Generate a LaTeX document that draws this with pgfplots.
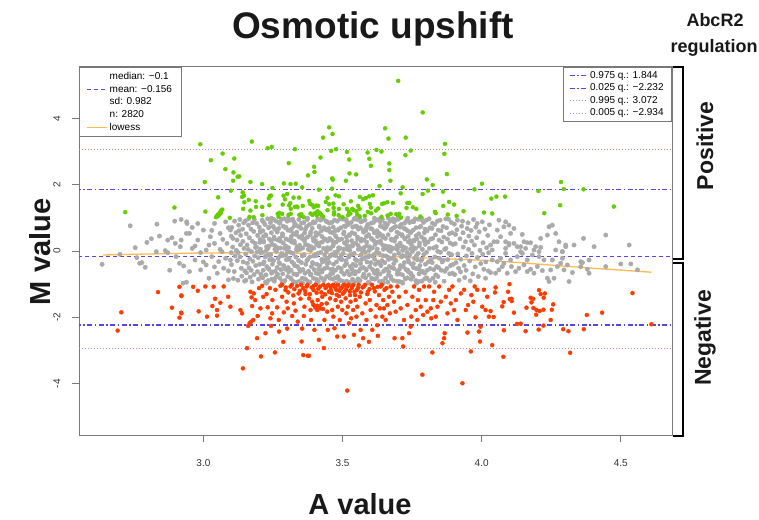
\documentclass[border=0pt]{standalone}
\usepackage{fontspec}
\setmainfont{Liberation Sans}
\usepackage{pgfplots}
\pgfplotsset{compat=1.18}
\definecolor{ptgray}{RGB}{170,170,170}
\definecolor{ptgreen}{RGB}{102,205,0}
\definecolor{ptred}{RGB}{255,60,0}
\definecolor{qdash}{RGB}{85,70,225}
\definecolor{qdot}{RGB}{150,140,245}
\definecolor{lowesscol}{RGB}{255,185,80}
\definecolor{framecol}{RGB}{120,120,120}
\begin{document}
\begin{tikzpicture}
\useasboundingbox (0pt,0pt) rectangle (759pt,519pt);
\begin{axis}[
  at={(79pt,84pt)}, anchor=south west, scale only axis, width=593pt, height=368pt,
  xmin=2.553, xmax=4.684, ymin=-5.55, ymax=5.55,
  axis line style={framecol, line width=1pt},
  xtick={3.0,3.5,4.0,4.5}, xticklabels={3.0,3.5,4.0,4.5},
  ytick={-4,-2,0,2,4}, yticklabels={-4,-2,0,2,4},
  xtick pos=lower, ytick pos=left, tick align=outside,
  major tick length=7pt,
  tick style={framecol, line width=0.8pt},
  ticklabel style={font=\fontsize{10}{12}\selectfont, text=black!80},
  xticklabel style={yshift=-14pt},
  yticklabel style={xshift=-8pt, rotate=90, anchor=south},
  legend style={at={(1,1)}, anchor=north east, draw=framecol, line width=0.8pt, fill=white,
    font=\fontsize{10}{12}\selectfont, row sep=0pt, inner xsep=6pt, inner ysep=2pt},
  legend cell align=left,
  legend image code/.code={\draw[#1] (0pt,0pt) -- (18pt,0pt);},
]
% gray points
\addplot[only marks, color=ptgray, mark=*, mark size=2.2pt, mark options={solid, draw=ptgray, fill=ptgray}, forget plot] coordinates {
(2.636,-0.40)(2.737,0.76)(2.833,0.81)(2.755,0.10)(2.797,0.26)(2.813,0.37)(2.842,0.45)(2.872,0.33)(2.887,0.40)(2.897,0.90)(2.920,0.95)(2.831,-0.02)(2.863,0.01)(2.872,-0.05)(2.761,-0.20)(2.771,-0.37)(2.779,-0.35)(2.791,-0.49)(2.879,-0.58)(2.914,-0.37)(2.929,-0.45)(2.927,-0.97)(2.939,-0.94)(2.899,0.23)(2.917,0.13)(2.902,-0.17)(2.941,0.83)(2.939,0.53)(2.700,-0.10)
(2.92,0.33)(2.94,0.88)(2.95,0.53)(2.96,0.08)(2.97,-0.27)(2.98,0.83)(2.98,0.33)(2.99,-0.57)(3.00,0.63)(3.01,0.03)(3.01,-0.42)(3.02,-0.82)(3.025,0.43)(3.03,-0.17)(3.04,0.83)(3.04,0.23)(3.05,-0.67)(3.055,-0.32)(3.06,0.53)(3.067,-0.02)(3.073,-0.52)(3.08,0.88)(3.085,0.23)(3.09,-0.87)(3.097,-0.27)(3.097,0.63)
(2.95,-0.62)(2.96,0.71)(2.97,0.15)(2.99,-0.05)(3.00,-0.33)(3.02,0.18)(3.03,0.62)(3.04,-0.48)(3.06,0.05)(3.07,0.35)(3.08,-0.22)(3.09,0.70)(3.09,-0.60)(3.10,0.45)(3.10,-0.05)
(3.102,0.71)(3.105,0.12)(3.101,-0.41)(3.108,-0.83)(3.106,0.38)
(3.112,0.90)(3.114,-0.15)(3.117,0.55)(3.111,-0.62)(3.118,0.02)
(3.121,0.33)(3.124,-0.88)(3.127,0.78)(3.122,-0.29)(3.128,0.61)(3.125,-0.05)
(3.131,0.95)(3.133,0.19)(3.136,-0.52)(3.138,-0.76)(3.134,0.47)(3.132,-0.18)
(3.141,0.66)(3.143,-0.33)(3.146,0.08)(3.148,-0.91)(3.145,0.85)(3.142,0.29)(3.149,-0.60)
(3.151,0.91)(3.154,0.52)(3.157,0.18)(3.152,-0.09)(3.158,-0.37)(3.155,-0.66)(3.153,-0.88)
(3.162,0.78)(3.165,0.40)(3.161,0.05)(3.167,-0.24)(3.164,-0.51)(3.168,-0.79)(3.163,0.97)
(3.171,0.66)(3.176,0.29)(3.173,-0.02)(3.178,-0.31)(3.172,-0.58)(3.175,-0.93)(3.177,0.85)
(3.183,0.95)(3.181,0.59)(3.186,0.23)(3.184,-0.15)(3.188,-0.44)(3.182,-0.71)(3.187,0.11)
(3.192,0.83)(3.195,0.47)(3.191,0.12)(3.197,-0.20)(3.194,-0.62)(3.198,-0.85)(3.193,-0.03)
(3.201,0.72)(3.204,0.35)(3.207,-0.06)(3.202,-0.40)(3.208,-0.74)(3.205,0.61)(3.203,0.26)
(3.211,0.93)(3.214,0.61)(3.217,0.27)(3.212,-0.04)(3.218,-0.33)(3.215,-0.58)(3.213,-0.81)(3.216,0.44)
(3.221,0.80)(3.224,0.49)(3.227,0.13)(3.222,-0.18)(3.228,-0.47)(3.225,-0.72)(3.223,-0.94)(3.226,0.02)
(3.231,0.97)(3.234,0.70)(3.237,0.36)(3.232,0.08)(3.238,-0.26)(3.235,-0.53)(3.233,-0.89)(3.236,-0.12)
(3.241,0.86)(3.244,0.55)(3.247,0.20)(3.242,-0.11)(3.248,-0.40)(3.245,-0.67)(3.243,0.31)(3.246,-0.85)
(3.251,0.74)(3.254,0.42)(3.257,0.05)(3.252,-0.29)(3.258,-0.61)(3.255,-0.91)(3.253,0.95)(3.256,0.17)
(3.261,0.90)(3.264,0.63)(3.267,0.33)(3.262,-0.01)(3.268,-0.22)(3.265,-0.50)(3.263,-0.77)(3.266,0.10)
(3.271,0.68)(3.274,0.38)(3.277,0.09)(3.272,-0.35)(3.278,-0.56)(3.275,-0.82)(3.273,0.84)(3.276,-0.15)
(3.281,0.96)(3.284,0.52)(3.287,0.24)(3.282,-0.07)(3.288,-0.44)(3.285,-0.69)(3.283,-0.92)(3.286,0.75)
(3.291,0.97)(3.294,0.70)(3.297,0.36)(3.292,0.08)(3.298,-0.26)(3.295,-0.53)(3.293,-0.89)(3.296,-0.12)
(3.301,0.90)(3.304,0.63)(3.307,0.33)(3.302,-0.01)(3.308,-0.22)(3.305,-0.50)(3.303,-0.77)(3.306,0.10)
(3.311,0.93)(3.314,0.61)(3.317,0.27)(3.312,-0.04)(3.318,-0.33)(3.315,-0.58)(3.313,-0.81)(3.316,0.44)
(3.321,0.96)(3.324,0.52)(3.327,0.24)(3.322,-0.07)(3.328,-0.44)(3.325,-0.69)(3.323,-0.92)(3.326,0.75)
(3.331,0.80)(3.334,0.49)(3.337,0.13)(3.332,-0.18)(3.338,-0.47)(3.335,-0.72)(3.333,-0.94)(3.336,0.02)
(3.341,0.74)(3.344,0.42)(3.347,0.05)(3.342,-0.29)(3.348,-0.61)(3.345,-0.91)(3.343,0.95)(3.346,0.17)
(3.351,0.68)(3.354,0.38)(3.357,0.09)(3.352,-0.35)(3.358,-0.56)(3.355,-0.82)(3.353,0.84)(3.356,-0.15)
(3.361,0.86)(3.364,0.55)(3.367,0.20)(3.362,-0.11)(3.368,-0.40)(3.365,-0.67)(3.363,0.31)(3.366,-0.85)
(3.371,0.74)(3.374,0.42)(3.377,0.05)(3.372,-0.29)(3.378,-0.61)(3.375,-0.91)(3.373,0.95)(3.376,0.17)
(3.381,0.80)(3.384,0.49)(3.387,0.13)(3.382,-0.18)(3.388,-0.47)(3.385,-0.72)(3.383,-0.94)(3.386,0.02)
(3.391,0.68)(3.394,0.38)(3.397,0.09)(3.392,-0.35)(3.398,-0.56)(3.395,-0.82)(3.393,0.84)(3.396,-0.15)
(3.401,0.86)(3.404,0.55)(3.407,0.20)(3.402,-0.11)(3.408,-0.40)(3.405,-0.67)(3.403,0.31)(3.406,-0.85)
(3.411,0.96)(3.414,0.52)(3.417,0.24)(3.412,-0.07)(3.418,-0.44)(3.415,-0.69)(3.413,-0.92)(3.416,0.75)
(3.421,0.93)(3.424,0.61)(3.427,0.27)(3.422,-0.04)(3.428,-0.33)(3.425,-0.58)(3.423,-0.81)(3.426,0.44)
(3.431,0.97)(3.434,0.70)(3.437,0.36)(3.432,0.08)(3.438,-0.26)(3.435,-0.53)(3.433,-0.89)(3.436,-0.12)
(3.441,0.90)(3.444,0.63)(3.447,0.33)(3.442,-0.01)(3.448,-0.22)(3.445,-0.50)(3.443,-0.77)(3.446,0.10)
(3.451,0.68)(3.454,0.38)(3.457,0.09)(3.452,-0.35)(3.458,-0.56)(3.455,-0.82)(3.453,0.84)(3.456,-0.15)
(3.461,0.86)(3.464,0.55)(3.467,0.20)(3.462,-0.11)(3.468,-0.40)(3.465,-0.67)(3.463,0.31)(3.466,-0.85)
(3.471,0.93)(3.474,0.61)(3.477,0.27)(3.472,-0.04)(3.478,-0.33)(3.475,-0.58)(3.473,-0.81)(3.476,0.44)
(3.481,0.90)(3.484,0.63)(3.487,0.33)(3.482,-0.01)(3.488,-0.22)(3.485,-0.50)(3.483,-0.77)(3.486,0.10)
(3.491,0.97)(3.494,0.70)(3.497,0.36)(3.492,0.08)(3.498,-0.26)(3.495,-0.53)(3.493,-0.89)(3.496,-0.12)
(3.501,0.96)(3.504,0.52)(3.507,0.24)(3.502,-0.07)(3.508,-0.44)(3.505,-0.69)(3.503,-0.92)(3.506,0.75)
(3.511,0.74)(3.514,0.42)(3.517,0.05)(3.512,-0.29)(3.518,-0.61)(3.515,-0.91)(3.513,0.95)(3.516,0.17)
(3.521,0.80)(3.524,0.49)(3.527,0.13)(3.522,-0.18)(3.528,-0.47)(3.525,-0.72)(3.523,-0.94)(3.526,0.02)
(3.531,0.86)(3.534,0.55)(3.537,0.20)(3.532,-0.11)(3.538,-0.40)(3.535,-0.67)(3.533,0.31)(3.536,-0.85)
(3.541,0.96)(3.544,0.52)(3.547,0.24)(3.542,-0.07)(3.548,-0.44)(3.545,-0.69)(3.543,-0.92)(3.546,0.75)
(3.551,0.74)(3.554,0.42)(3.557,0.05)(3.552,-0.29)(3.558,-0.61)(3.555,-0.91)(3.553,0.95)(3.556,0.17)
(3.561,0.97)(3.564,0.70)(3.567,0.36)(3.562,0.08)(3.568,-0.26)(3.565,-0.53)(3.563,-0.89)(3.566,-0.12)
(3.571,0.90)(3.574,0.63)(3.577,0.33)(3.572,-0.01)(3.578,-0.22)(3.575,-0.50)(3.573,-0.77)(3.576,0.10)
(3.581,0.93)(3.584,0.61)(3.587,0.27)(3.582,-0.04)(3.588,-0.33)(3.585,-0.58)(3.583,-0.81)(3.586,0.44)
(3.591,0.80)(3.594,0.49)(3.597,0.13)(3.592,-0.18)(3.598,-0.47)(3.595,-0.72)(3.593,-0.94)(3.596,0.02)
(3.601,0.68)(3.604,0.38)(3.607,0.09)(3.602,-0.35)(3.608,-0.56)(3.605,-0.82)(3.603,0.84)(3.606,-0.15)
(3.611,0.86)(3.614,0.55)(3.617,0.20)(3.612,-0.11)(3.618,-0.40)(3.615,-0.67)(3.613,0.31)(3.616,-0.85)
(3.621,0.93)(3.624,0.61)(3.627,0.27)(3.622,-0.04)(3.628,-0.33)(3.625,-0.58)(3.623,-0.81)(3.626,0.44)
(3.631,0.96)(3.634,0.52)(3.637,0.24)(3.632,-0.07)(3.638,-0.44)(3.635,-0.69)(3.633,-0.92)(3.636,0.75)
(3.641,0.74)(3.644,0.42)(3.647,0.05)(3.642,-0.29)(3.648,-0.61)(3.645,-0.91)(3.643,0.95)(3.646,0.17)
(3.651,0.68)(3.654,0.38)(3.657,0.09)(3.652,-0.35)(3.658,-0.56)(3.655,-0.82)(3.653,0.84)(3.656,-0.15)
(3.661,0.80)(3.664,0.49)(3.667,0.13)(3.662,-0.18)(3.668,-0.47)(3.665,-0.72)(3.663,-0.94)(3.666,0.02)
(3.671,0.90)(3.674,0.63)(3.677,0.33)(3.672,-0.01)(3.678,-0.22)(3.675,-0.50)(3.673,-0.77)(3.676,0.10)
(3.681,0.97)(3.684,0.70)(3.687,0.36)(3.682,0.08)(3.688,-0.26)(3.685,-0.53)(3.683,-0.89)(3.686,-0.12)
(3.691,0.74)(3.694,0.42)(3.697,0.05)(3.692,-0.29)(3.698,-0.61)(3.695,-0.91)(3.693,0.95)(3.696,0.17)
(3.701,0.96)(3.704,0.52)(3.707,0.24)(3.702,-0.07)(3.708,-0.44)(3.705,-0.69)(3.703,-0.92)(3.706,0.75)
(3.711,0.80)(3.714,0.49)(3.717,0.13)(3.712,-0.18)(3.718,-0.47)(3.715,-0.72)(3.713,-0.94)(3.716,0.02)
(3.721,0.68)(3.724,0.38)(3.727,0.09)(3.722,-0.35)(3.728,-0.56)(3.725,-0.82)(3.723,0.84)(3.726,-0.15)
(3.731,0.93)(3.734,0.61)(3.737,0.27)(3.732,-0.04)(3.738,-0.33)(3.735,-0.58)(3.733,-0.81)(3.736,0.44)
(3.741,0.86)(3.744,0.55)(3.747,0.20)(3.742,-0.11)(3.748,-0.40)(3.745,-0.67)(3.743,0.31)(3.746,-0.85)
(3.751,0.90)(3.754,0.63)(3.757,0.33)(3.752,-0.01)(3.758,-0.22)(3.755,-0.50)(3.753,-0.77)(3.756,0.10)
(3.761,0.97)(3.764,0.70)(3.767,0.36)(3.762,0.08)(3.768,-0.26)(3.765,-0.53)(3.763,-0.89)
(3.771,0.96)(3.774,0.52)(3.777,0.24)(3.772,-0.07)(3.778,-0.44)(3.775,-0.69)(3.773,-0.92)
(3.781,0.74)(3.784,0.42)(3.787,0.05)(3.782,-0.29)(3.788,-0.61)(3.785,-0.91)(3.783,0.95)
(3.791,0.86)(3.794,0.55)(3.797,0.20)(3.792,-0.11)(3.798,-0.40)(3.795,-0.67)(3.793,0.31)
(3.801,0.93)(3.804,0.61)(3.807,0.27)(3.802,-0.04)(3.808,-0.33)(3.805,-0.58)(3.803,-0.81)
(3.811,0.97)(3.814,0.70)(3.817,0.36)(3.812,0.08)(3.818,-0.26)(3.815,-0.53)(3.813,-0.89)
(3.821,0.68)(3.824,0.38)(3.827,0.09)(3.822,-0.35)(3.828,-0.56)(3.825,-0.82)(3.823,0.84)
(3.831,0.80)(3.834,0.49)(3.837,0.13)(3.832,-0.18)(3.838,-0.47)(3.835,-0.72)(3.833,-0.94)
(3.841,0.90)(3.844,0.63)(3.847,0.33)(3.842,-0.01)(3.848,-0.22)(3.845,-0.50)(3.843,-0.77)
(3.851,0.93)(3.854,0.61)(3.857,0.27)(3.852,-0.04)(3.858,-0.33)(3.855,-0.58)
(3.861,0.74)(3.864,0.42)(3.867,0.05)(3.862,-0.29)(3.868,-0.61)(3.865,-0.91)
(3.871,0.97)(3.874,0.70)(3.877,0.36)(3.872,0.08)(3.878,-0.26)(3.875,-0.53)
(3.881,0.96)(3.884,0.52)(3.887,0.24)(3.882,-0.07)(3.888,-0.44)(3.885,-0.69)
(3.891,0.86)(3.894,0.55)(3.897,0.20)(3.892,-0.11)(3.898,-0.40)(3.895,-0.67)
(3.902,0.81)(3.905,0.22)(3.908,-0.35)(3.903,-0.71)(3.906,0.50)
(3.911,0.64)(3.914,-0.09)(3.917,-0.52)(3.913,0.93)(3.919,-0.88)
(3.922,0.37)(3.925,-0.25)(3.928,0.75)(3.924,-0.63)
(3.931,0.90)(3.934,0.12)(3.937,-0.44)(3.939,-0.80)(3.933,0.55)
(3.942,0.28)(3.945,-0.15)(3.948,0.68)(3.944,-0.58)
(3.951,0.85)(3.954,0.45)(3.957,-0.30)(3.959,-0.90)(3.953,0.05)
(3.962,0.62)(3.965,-0.07)(3.968,-0.69)(3.964,0.30)
(3.971,0.95)(3.974,0.18)(3.977,-0.48)(3.979,0.72)
(3.982,0.40)(3.985,-0.20)(3.988,-0.77)(3.984,0.83)
(3.991,0.58)(3.994,0.02)(3.997,-0.38)
(4.002,0.88)(4.005,0.25)(4.008,-0.55)(4.004,-0.10)
(4.012,0.66)(4.015,-0.33)(4.018,0.10)(4.014,-0.82)
(4.022,0.47)(4.025,-0.05)(4.028,0.79)(4.024,-0.60)
(4.032,-0.65)(4.050,-0.67)(4.062,-0.57)(4.074,-0.47)(4.080,-0.37)(4.092,-0.67)(4.107,-0.47)(4.122,-0.62)(4.134,-0.52)(4.152,-0.42)(4.164,-0.62)(4.176,-0.55)(4.188,-0.67)(4.200,-0.47)(4.218,-0.59)(4.236,-0.82)(4.242,-0.92)(4.248,-0.57)(4.260,-0.82)(4.272,-0.47)(4.284,-0.37)(4.296,-0.57)(4.314,-0.92)(4.326,-0.65)(4.356,-0.47)(4.362,-0.35)(4.380,-0.55)(4.386,-0.67)(4.446,-0.47)(4.500,-0.39)(4.536,-0.39)(4.560,-0.57)
(4.032,0.18)(4.056,0.28)(4.086,0.28)(4.098,0.18)(4.116,0.23)(4.140,0.13)(4.158,0.08)(4.176,0.25)(4.194,0.13)(4.212,0.11)(4.266,0.03)(4.290,-0.02)(4.302,0.13)(4.332,0.18)(4.404,0.13)(4.530,0.18)
(4.038,-0.27)(4.056,-0.32)(4.068,-0.22)(4.086,-0.07)(4.104,-0.27)(4.128,-0.17)(4.146,-0.07)(4.164,-0.27)(4.182,-0.12)(4.206,-0.17)(4.224,-0.27)(4.254,-0.27)(4.290,-0.22)(4.308,-0.42)(4.356,-0.32)(4.386,-0.27)
(4.062,0.93)(4.086,0.88)(4.080,0.73)(4.098,0.78)(4.104,0.53)(4.116,0.68)(4.056,0.63)(4.068,0.43)(4.044,0.28)(4.146,0.50)(4.152,0.28)(4.164,0.25)(4.188,0.03)(4.212,0.38)(4.242,0.73)(4.254,0.78)(4.236,0.48)(4.266,0.53)(4.278,0.28)(4.302,0.18)(4.366,0.38)(4.446,0.48)(4.038,0.03)(4.086,0.08)(4.098,0.23)(4.128,0.13)(4.140,-0.02)(4.206,-0.02)(4.290,-0.02)
(3.2045,0.06)(3.2055,0.57)(3.2065,-0.70)(3.2145,-0.38)(3.2155,0.88)(3.2165,0.30)(3.2245,0.46)(3.2255,-0.14)(3.2265,-0.97)(3.2345,-0.55)(3.2355,0.15)(3.2365,0.72)(3.2445,0.99)(3.2455,-0.25)(3.2465,-0.63)(3.2545,0.36)(3.2555,-0.84)(3.2565,0.66)
(3.2645,0.06)(3.2655,0.57)(3.2665,-0.70)(3.2745,-0.38)(3.2755,0.88)(3.2765,0.30)(3.2845,0.46)(3.2855,-0.14)(3.2865,-0.97)(3.2945,-0.55)(3.2955,0.15)(3.2965,0.72)(3.3045,0.99)(3.3055,-0.25)(3.3065,-0.63)(3.3145,0.36)(3.3155,-0.84)(3.3165,0.66)
(3.3245,-0.38)(3.3255,0.88)(3.3265,0.30)(3.3345,0.06)(3.3355,0.57)(3.3365,-0.70)(3.3445,-0.55)(3.3455,0.15)(3.3465,0.72)(3.3545,0.46)(3.3555,-0.14)(3.3565,-0.97)(3.3645,0.36)(3.3655,-0.84)(3.3665,0.66)(3.3745,0.99)(3.3755,-0.25)(3.3765,-0.63)
(3.3845,0.06)(3.3855,0.57)(3.3865,-0.70)(3.3945,-0.38)(3.3955,0.88)(3.3965,0.30)(3.4045,0.46)(3.4055,-0.14)(3.4065,-0.97)(3.4145,-0.55)(3.4155,0.15)(3.4165,0.72)(3.4245,0.99)(3.4255,-0.25)(3.4265,-0.63)(3.4345,0.36)(3.4355,-0.84)(3.4365,0.66)
(3.4445,-0.38)(3.4455,0.88)(3.4465,0.30)(3.4545,0.06)(3.4555,0.57)(3.4565,-0.70)(3.4645,-0.55)(3.4655,0.15)(3.4665,0.72)(3.4745,0.46)(3.4755,-0.14)(3.4765,-0.97)(3.4845,0.36)(3.4855,-0.84)(3.4865,0.66)(3.4945,0.99)(3.4955,-0.25)(3.4965,-0.63)
(3.5045,0.06)(3.5055,0.57)(3.5065,-0.70)(3.5145,-0.38)(3.5155,0.88)(3.5165,0.30)(3.5245,0.46)(3.5255,-0.14)(3.5265,-0.97)(3.5345,-0.55)(3.5355,0.15)(3.5365,0.72)(3.5445,0.99)(3.5455,-0.25)(3.5465,-0.63)(3.5545,0.36)(3.5555,-0.84)(3.5565,0.66)
(3.5645,-0.38)(3.5655,0.88)(3.5665,0.30)(3.5745,0.06)(3.5755,0.57)(3.5765,-0.70)(3.5845,-0.55)(3.5855,0.15)(3.5865,0.72)(3.5945,0.46)(3.5955,-0.14)(3.5965,-0.97)(3.6045,0.36)(3.6055,-0.84)(3.6065,0.66)(3.6145,0.99)(3.6155,-0.25)(3.6165,-0.63)
(3.6245,0.06)(3.6255,0.57)(3.6265,-0.70)(3.6345,-0.38)(3.6355,0.88)(3.6365,0.30)(3.6445,0.46)(3.6455,-0.14)(3.6465,-0.97)(3.6545,-0.55)(3.6555,0.15)(3.6565,0.72)(3.6645,0.99)(3.6655,-0.25)(3.6665,-0.63)(3.6745,0.36)(3.6755,-0.84)(3.6765,0.66)
(3.6845,-0.38)(3.6855,0.88)(3.6865,0.30)(3.6945,0.06)(3.6955,0.57)(3.6965,-0.70)(3.7045,-0.55)(3.7055,0.15)(3.7065,0.72)(3.7145,0.46)(3.7155,-0.14)(3.7165,-0.97)(3.7245,0.36)(3.7255,-0.84)(3.7265,0.66)(3.7345,0.99)(3.7355,-0.25)(3.7365,-0.63)
(3.7445,0.06)(3.7455,0.57)(3.7465,-0.70)(3.7545,-0.38)(3.7555,0.88)(3.7565,0.30)(3.7645,0.46)(3.7655,-0.14)(3.7665,-0.97)(3.7745,-0.55)(3.7755,0.15)(3.7765,0.72)(3.7845,0.99)(3.7855,-0.25)(3.7865,-0.63)(3.7945,0.36)(3.7955,-0.84)(3.7965,0.66)
};
% green points (M > 1)
\addplot[only marks, color=ptgreen, mark=*, mark size=2pt, mark options={solid, draw=ptgreen, fill=ptgreen}, forget plot] coordinates {
(3.700,5.13)(3.788,4.18)(2.989,3.22)(3.174,3.30)(3.231,3.10)(3.246,3.14)(3.452,3.73)(3.464,3.53)(3.430,3.42)(3.653,3.70)(3.665,3.39)(3.727,3.42)(3.868,3.23)(3.866,2.93)(3.329,3.07)(3.459,3.02)(3.477,3.07)(3.516,2.99)(3.590,2.97)(3.622,3.05)(3.640,3.00)(3.726,2.89)(3.745,3.03)(3.027,2.74)(3.069,2.94)(3.111,2.79)(3.079,2.47)(3.108,2.37)(3.123,2.24)(3.129,2.25)(3.107,2.12)(3.005,2.08)(3.169,2.08)(3.211,2.02)(3.248,1.90)(3.307,2.65)(3.398,2.54)(3.399,2.38)(3.376,2.28)(3.421,2.82)(3.524,2.76)(3.525,2.34)(3.549,2.31)(3.512,2.12)(3.463,2.19)(3.465,2.15)(3.596,2.78)(3.602,2.57)(3.668,2.64)(3.668,2.44)(3.672,2.12)(3.633,1.96)(3.716,1.92)(3.709,1.74)(3.803,2.16)(3.824,1.99)(3.788,1.72)(3.807,1.82)(3.875,2.32)(3.861,1.79)(3.289,2.04)(3.313,2.02)(3.332,2.03)(3.355,1.92)(3.415,1.85)(3.462,1.88)(3.053,1.62)(3.007,1.19)(3.141,1.77)(3.146,1.67)(3.139,1.63)(3.163,1.54)(3.147,1.47)(3.188,1.50)(3.189,1.33)(3.211,1.33)(3.143,1.27)(3.169,1.22)(3.166,1.03)(3.181,1.02)(3.212,1.08)
(3.045,1.02)(3.050,1.08)(3.055,1.12)(3.060,1.17)(3.064,1.22)(3.068,1.25)(3.052,1.05)(3.058,1.10)(3.062,1.14)
(3.095,1.00)(3.235,1.59)(3.243,1.67)(3.239,1.66)(3.273,1.15)(3.267,1.12)(3.283,1.12)(3.288,1.67)(3.301,1.72)(3.293,1.56)(3.285,1.40)(3.308,1.38)(3.312,1.44)(3.314,1.27)(3.329,1.33)(3.338,1.32)(3.335,1.34)(3.306,1.09)(3.314,1.12)(3.345,1.09)(3.349,1.06)(3.352,1.11)(3.380,1.51)(3.384,1.42)(3.392,1.38)(3.397,1.32)(3.406,1.37)(3.412,1.36)(3.385,1.13)(3.392,1.09)(3.401,1.14)(3.408,1.07)(3.418,1.15)(3.423,1.10)(3.446,1.60)(3.440,1.48)(3.452,1.41)(3.467,1.43)(3.468,1.30)(3.487,1.27)(3.475,1.68)(3.487,1.65)(3.469,1.10)(3.486,1.08)(3.446,1.23)(3.504,1.41)(3.516,1.27)(3.523,1.19)(3.535,1.27)(3.540,1.23)(3.530,1.50)(3.556,1.36)(3.561,1.27)(3.520,1.08)(3.528,1.13)(3.553,1.10)(3.562,1.04)(3.574,1.56)(3.584,1.60)(3.596,1.65)(3.609,1.68)(3.598,1.42)(3.602,1.31)(3.591,1.18)(3.603,1.14)(3.562,1.63)(3.642,1.42)(3.649,1.44)(3.661,1.47)(3.628,1.28)(3.673,1.12)(3.662,1.07)(3.681,1.45)(3.693,1.11)(3.698,1.08)(3.704,1.12)(3.733,1.45)(3.740,1.45)(3.730,1.30)(3.753,1.32)(3.765,1.27)(3.832,1.18)(3.835,1.14)(3.862,1.36)(3.878,1.10)(3.883,1.48)(3.901,1.40)(3.910,1.06)(3.935,1.20)(3.974,1.86)(4.001,2.03)(4.008,1.16)(4.038,1.13)(4.035,1.58)(4.053,1.64)(3.357,1.36)(3.344,1.61)(3.324,1.61)(3.099,1.82)(3.237,1.38)
(2.719,1.17)(2.896,1.31)
(4.084,1.64)(4.204,1.81)(4.285,2.08)(4.295,1.87)(4.366,1.86)(4.282,1.38)(4.225,1.14)(4.475,1.34)
(3.360,1.02)(3.430,1.04)(3.500,1.02)(3.580,1.06)(3.640,1.03)(3.710,1.01)(3.780,1.04)(3.270,1.03)(3.410,1.20)(3.470,1.17)(3.550,1.20)(3.620,1.22)
};
% red points (M < -1)
\addplot[only marks, color=ptred, mark=*, mark size=2pt, mark options={solid, draw=ptred, fill=ptred}, forget plot] coordinates {
(2.837,-1.24)(2.705,-1.85)(2.692,-2.40)(2.887,-1.71)(2.914,-1.08)(2.921,-1.34)(2.920,-1.86)(2.914,-2.01)
(2.921,-1.36)(2.921,-1.88)(2.963,-1.08)(2.980,-1.20)(2.983,-1.82)(3.007,-1.07)(3.013,-1.98)(3.032,-1.66)(3.037,-1.08)(3.042,-1.44)(3.049,-1.78)(3.049,-1.95)(3.061,-1.56)(3.073,-1.07)(3.089,-1.38)(3.097,-1.68)(3.133,-1.78)(3.139,-1.88)(3.142,-3.54)(3.157,-2.93)(3.161,-2.26)(3.166,-2.18)(3.172,-2.13)(3.179,-2.08)(3.169,-1.23)(3.173,-1.40)(3.175,-1.66)(3.181,-1.28)(3.186,-1.48)(3.193,-2.63)(3.195,-1.96)(3.200,-1.12)(3.205,-1.73)(3.207,-3.18)(3.211,-1.05)(3.215,-1.38)(3.223,-2.48)(3.227,-1.30)(3.231,-1.70)(3.239,-1.12)(3.241,-2.03)(3.243,-2.26)(3.247,-1.88)(3.248,-1.48)(3.257,-3.06)(3.259,-1.17)(3.265,-1.70)(3.271,-2.08)(3.272,-2.43)(3.277,-1.05)(3.283,-1.38)(3.287,-2.74)(3.289,-1.85)(3.295,-1.18)(3.299,-1.53)(3.301,-2.34)(3.303,-1.73)(3.313,-1.07)(3.319,-1.96)(3.323,-1.34)(3.325,-1.58)(3.331,-1.80)(3.337,-1.05)(3.339,-2.13)(3.347,-1.20)(3.349,-1.44)(3.353,-2.73)(3.355,-2.34)(3.359,-3.14)(3.361,-1.96)(3.363,-1.68)(3.367,-1.30)(3.371,-1.07)(3.375,-3.16)(3.379,-3.16)(3.380,-1.43)(3.385,-1.78)(3.387,-2.08)(3.391,-1.53)(3.397,-1.05)(3.399,-2.38)(3.403,-1.66)(3.407,-1.26)(3.409,-1.78)(3.411,-1.48)(3.415,-2.68)(3.419,-1.07)(3.421,-1.73)(3.427,-1.38)(3.433,-2.93)(3.435,-2.08)(3.439,-1.12)(3.443,-1.58)(3.445,-1.83)(3.447,-2.38)(3.451,-1.23)(3.455,-1.43)(3.457,-1.07)(3.463,-1.78)(3.467,-1.98)(3.469,-1.05)(3.471,-2.33)(3.475,-1.48)(3.478,-1.17)(3.481,-2.58)(3.483,-1.68)(3.487,-1.36)(3.490,-2.08)(3.493,-1.12)(3.495,-1.53)(3.499,-1.78)(3.502,-1.05)(3.505,-2.58)(3.507,-1.23)(3.511,-1.43)(3.514,-1.88)(3.517,-4.21)(3.517,-1.07)(3.519,-1.68)(3.523,-2.18)(3.527,-1.33)(3.529,-1.53)(3.531,-2.03)(3.535,-1.07)(3.538,-1.78)(3.541,-2.53)(3.543,-1.23)(3.547,-1.48)(3.550,-1.98)(3.553,-1.68)(3.555,-1.12)(3.559,-2.85)(3.562,-1.38)(3.565,-2.38)(3.571,-1.88)(3.574,-2.63)(3.577,-1.07)(3.583,-1.58)(3.586,-2.08)(3.591,-1.23)(3.595,-2.74)(3.598,-1.48)(3.601,-1.78)(3.607,-2.38)(3.613,-1.12)(3.619,-1.98)(3.622,-1.63)(3.625,-2.24)(3.627,-2.56)(3.631,-1.33)(3.634,-1.73)(3.637,-1.07)(3.643,-1.98)(3.646,-1.48)(3.649,-1.73)(3.651,-1.17)(3.655,-2.08)(3.661,-1.63)(3.667,-1.38)(3.670,-1.88)(3.673,-1.07)(3.679,-1.23)(3.685,-1.53)(3.687,-2.63)(3.691,-1.83)(3.697,-1.07)(3.703,-1.38)(3.709,-1.73)(3.715,-2.63)(3.718,-2.88)(3.721,-2.08)(3.727,-1.23)(3.733,-1.63)(3.739,-2.48)(3.745,-2.28)(3.747,-1.98)(3.751,-1.38)(3.757,-1.07)(3.763,-1.78)(3.769,-2.08)(3.771,-1.48)(3.775,-1.17)(3.781,-1.68)(3.787,-3.73)(3.790,-1.93)(3.793,-1.07)(3.799,-1.48)(3.805,-1.83)(3.811,-1.07)(3.817,-1.73)(3.819,-2.03)(3.823,-3.06)(3.826,-1.48)(3.829,-1.23)(3.835,-1.98)(3.841,-1.68)(3.847,-1.07)(3.853,-1.53)(3.859,-2.78)(3.865,-2.63)(3.867,-2.48)(3.871,-1.38)(3.877,-1.88)(3.883,-1.17)(3.889,-1.58)(3.895,-1.07)(3.901,-1.78)(3.907,-1.48)(3.913,-2.08)(3.925,-1.28)(3.931,-3.99)(3.937,-1.17)(3.943,-1.78)(3.949,-2.46)(3.951,-1.63)(3.961,-3.03)(3.963,-1.33)(3.970,-1.53)(3.975,-1.07)(3.978,-2.00)(3.984,-1.17)(3.990,-2.43)(3.994,-2.73)(3.996,-2.28)(4.002,-1.68)(4.008,-1.17)(4.014,-1.78)(4.020,-1.38)(4.026,-1.98)
(3.282,-1.02)(3.296,-1.10)(3.305,-1.25)(3.318,-1.02)(3.327,-1.15)(3.342,-1.28)(3.351,-1.02)(3.358,-1.12)(3.366,-1.21)(3.374,-1.02)(3.383,-1.30)(3.389,-1.10)(3.396,-1.18)(3.404,-1.02)(3.413,-1.14)(3.424,-1.25)(3.431,-1.02)(3.437,-1.31)(3.442,-1.09)(3.449,-1.02)(3.458,-1.17)(3.462,-1.27)(3.466,-1.02)(3.474,-1.10)(3.479,-1.32)(3.484,-1.02)(3.489,-1.20)(3.496,-1.12)(3.501,-1.29)(3.506,-1.02)(3.513,-1.15)(3.521,-1.02)(3.526,-1.22)(3.533,-1.12)(3.539,-1.02)(3.545,-1.33)(3.551,-1.18)(3.558,-1.02)(3.566,-1.25)(3.572,-1.10)(3.581,-1.02)(3.589,-1.30)(3.597,-1.15)(3.606,-1.02)(3.616,-1.22)(3.626,-1.08)(3.641,-1.02)(3.658,-1.12)
(3.395,-1.62)(3.402,-1.70)(3.410,-1.65)(3.417,-1.72)(3.425,-1.60)(3.430,-1.75)
(4.100,-1.00)(4.050,-1.10)(4.048,-1.25)(4.095,-1.23)(4.101,-1.45)(4.108,-1.51)(4.107,-1.44)(4.079,-1.54)(4.074,-1.67)(4.032,-1.81)(4.043,-1.99)(4.116,-1.86)(4.161,-1.71)(4.176,-1.41)(4.185,-1.44)(4.179,-1.55)(4.206,-1.18)(4.212,-1.30)(4.227,-1.28)(4.223,-1.41)(4.257,-1.61)(4.252,-1.77)(4.186,-1.72)(4.197,-1.78)(4.208,-1.81)(4.222,-1.77)(4.196,-1.92)(4.248,-2.08)(4.127,-2.20)(4.140,-2.19)(4.080,-2.39)(4.158,-2.42)(4.205,-2.37)(4.222,-2.25)(4.293,-2.36)(4.312,-2.42)(4.318,-3.07)(4.367,-2.36)(4.378,-1.93)(4.433,-1.86)(4.542,-1.27)(4.610,-2.21)(4.038,-2.84)(4.078,-3.19)
};
% mean line
\addplot[draw=qdash, line width=1.3pt, dash pattern=on 4pt off 3pt, forget plot] coordinates {(2.50,-0.156)(4.75,-0.156)};
% quantile lines
\addplot[draw=qdash, line width=1.1pt, dash pattern=on 5pt off 2.5pt on 1.5pt off 2.5pt] coordinates {(2.50,1.844)(4.75,1.844)};
\addlegendentry{0.975 q.: 1.844}
\addplot[draw=qdash, line width=1.1pt, dash pattern=on 5pt off 2.5pt on 1.5pt off 2.5pt] coordinates {(2.50,-2.232)(4.75,-2.232)};
\addlegendentry{0.025 q.: −2.232}
\addplot[draw=qdot, line width=1pt, dash pattern=on 1pt off 2pt] coordinates {(2.50,3.072)(4.75,3.072)};
\addlegendentry{0.995 q.: 3.072}
\addplot[draw=qdot, line width=1pt, dash pattern=on 1pt off 2pt] coordinates {(2.50,-2.934)(4.75,-2.934)};
\addlegendentry{0.005 q.: −2.934}
% lowess
\addplot[draw=lowesscol, line width=1.3pt, forget plot] coordinates {(2.64,-0.12)(2.80,-0.09)(3.00,-0.06)(3.20,-0.05)(3.40,-0.07)(3.55,-0.11)(3.65,-0.16)(3.80,-0.21)(3.95,-0.26)(4.03,-0.29)(4.15,-0.36)(4.27,-0.44)(4.40,-0.52)(4.61,-0.64)};
\end{axis}
% left legend in an overlaid axis
\begin{axis}[
  at={(79pt,84pt)}, anchor=south west, scale only axis, width=593pt, height=368pt,
  xmin=0, xmax=1, ymin=0, ymax=1, hide axis,
  legend style={at={(0,1)}, anchor=north west, draw=framecol, line width=0.8pt, fill=white,
    font=\fontsize{10}{12}\selectfont, row sep=0pt, inner xsep=7pt, inner ysep=3pt},
  legend cell align=left,
  legend image code/.code={\draw[#1] (0pt,0pt) -- (20pt,0pt);},
]
\addlegendimage{empty legend}\addlegendentry{median: −0.1}
\addlegendimage{draw=qdash, line width=1.3pt, dash pattern=on 4pt off 3pt}\addlegendentry{mean: −0.156}
\addlegendimage{empty legend}\addlegendentry{sd: 0.982}
\addlegendimage{empty legend}\addlegendentry{n: 2820}
\addlegendimage{draw=lowesscol, line width=1.3pt}\addlegendentry{lowess}
\end{axis}
% brackets
\draw[black, line width=2.2pt] (673pt,452pt) -- (683pt,452pt) -- (683pt,260pt) -- (673pt,260pt);
\draw[black, line width=2.2pt] (673pt,256pt) -- (683pt,256pt) -- (683pt,83pt) -- (673pt,83pt);
% texts
\node[anchor=base, font=\fontsize{37}{40}\selectfont\bfseries, text=black!90] at (373pt,480pt) {Osmotic upshift};
\node[font=\fontsize{29}{32}\selectfont\bfseries, rotate=90, text=black!90] at (40pt,267pt) {M value};
\node[anchor=base, font=\fontsize{29}{32}\selectfont\bfseries, text=black!90] at (360pt,5pt) {A value};
\node[anchor=base, font=\fontsize{18}{20}\selectfont\bfseries, text=black!90] at (715pt,492pt) {AbcR2};
\node[anchor=base, font=\fontsize{18}{20}\selectfont\bfseries, text=black!90] at (714pt,466pt) {regulation};
\node[rotate=90, font=\fontsize{23}{26}\selectfont\bfseries, text=black!90] at (705pt,373pt) {Positive};
\node[rotate=90, font=\fontsize{23}{26}\selectfont\bfseries, text=black!90] at (705pt,181pt) {Negative};
\end{tikzpicture}
\end{document}
